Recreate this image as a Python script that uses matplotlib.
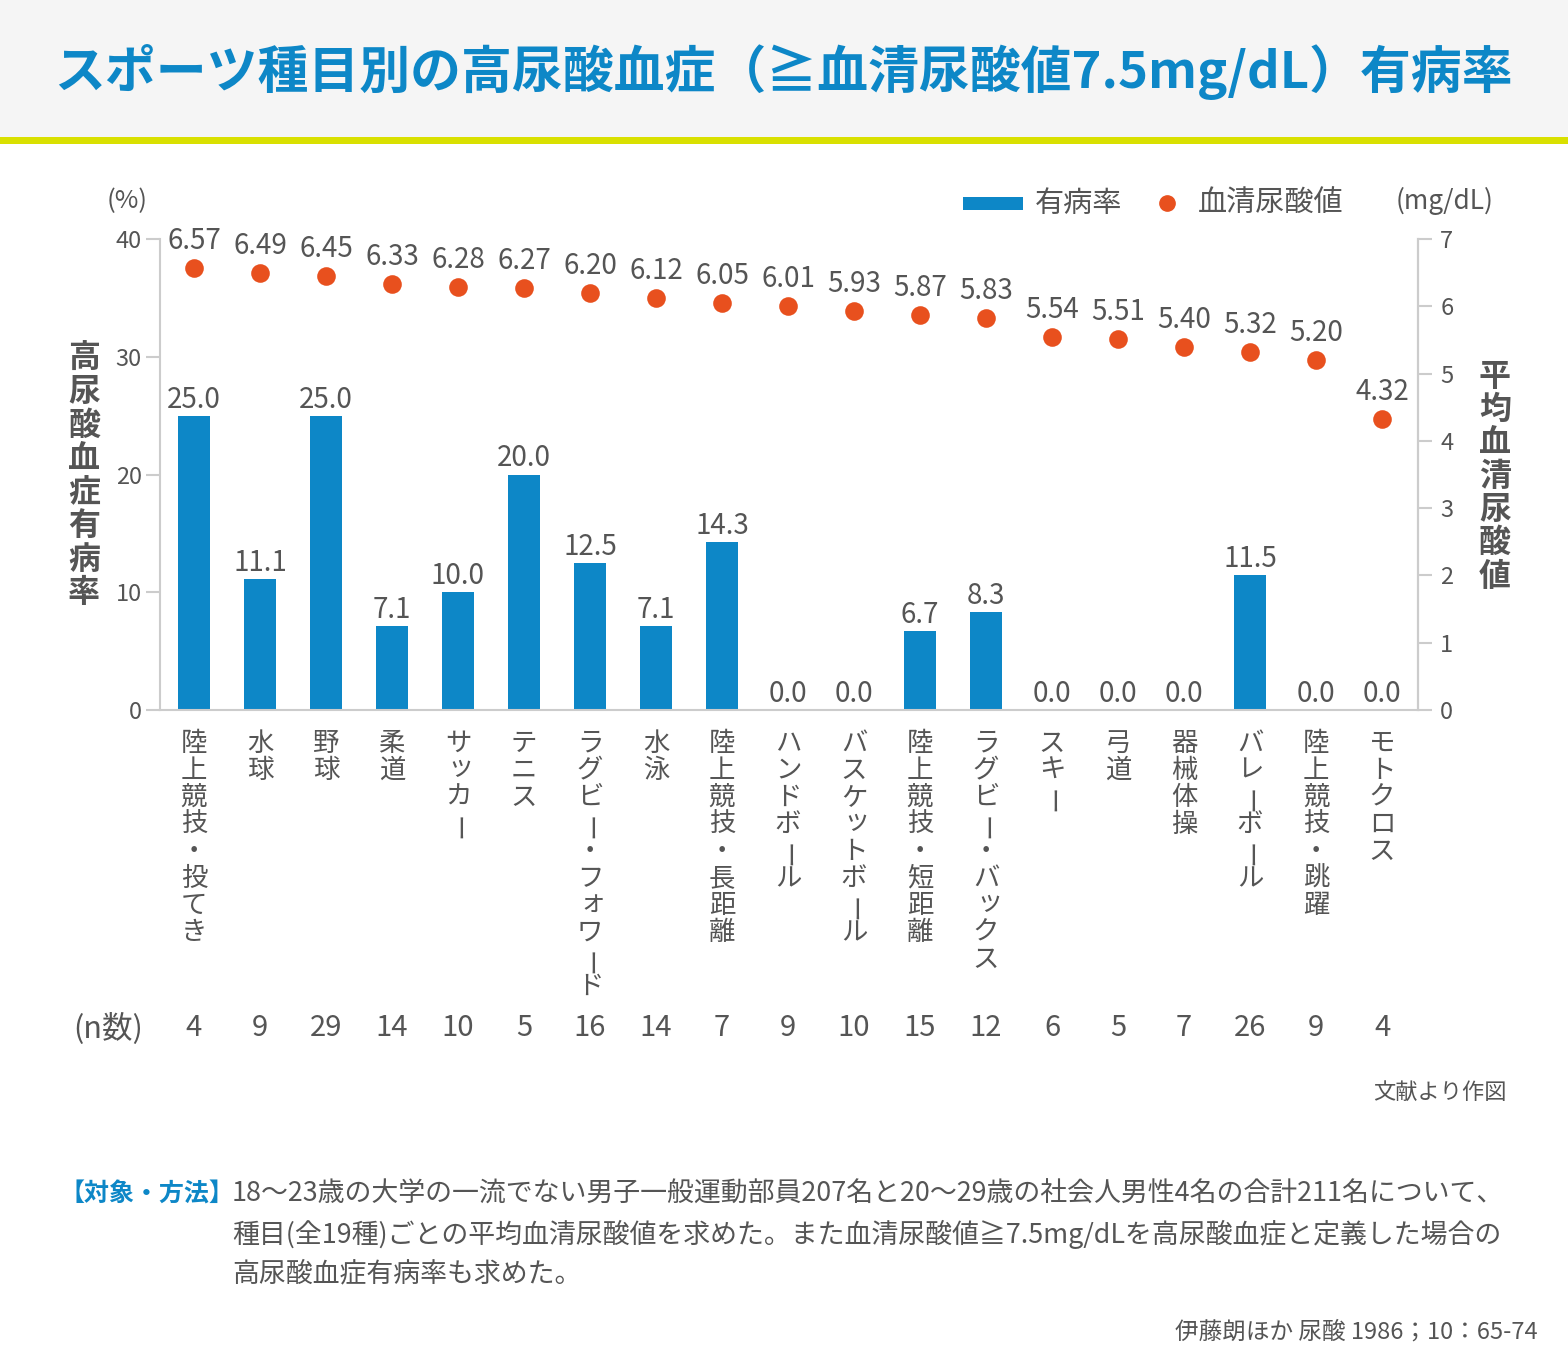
import numpy as np
import matplotlib
matplotlib.use("Agg")
import matplotlib.pyplot as plt
from matplotlib.patches import Rectangle
from matplotlib.lines import Line2D
import matplotlib.transforms as mtransforms

plt.rcParams['font.family'] = ['Noto Sans CJK JP', 'DejaVu Sans']

# データ
sports = ["陸上競技・投てき", "水球", "野球", "柔道", "サッカー", "テニス",
          "ラグビー・フォワード", "水泳", "陸上競技・長距離", "ハンドボール",
          "バスケットボール", "陸上競技・短距離", "ラグビー・バックス", "スキー",
          "弓道", "器械体操", "バレーボール", "陸上競技・跳躍", "モトクロス"]
rate = [25.0, 11.1, 25.0, 7.1, 10.0, 20.0, 12.5, 7.1, 14.3, 0.0,
        0.0, 6.7, 8.3, 0.0, 0.0, 0.0, 11.5, 0.0, 0.0]
uric = [6.57, 6.49, 6.45, 6.33, 6.28, 6.27, 6.20, 6.12, 6.05, 6.01,
        5.93, 5.87, 5.83, 5.54, 5.51, 5.40, 5.32, 5.20, 4.32]
n_count = [4, 9, 29, 14, 10, 5, 16, 14, 7, 9, 10, 15, 12, 6, 5, 7, 26, 9, 4]
rate_ticks = [0, 10, 20, 30, 40]
uric_ticks = [0, 1, 2, 3, 4, 5, 6, 7]

BLUE = '#0d87c7'
ORANGE = '#e8501e'
GRAY = '#555555'
SPINE = '#cccccc'

W, H = 1568, 1368
fig = plt.figure(figsize=(W / 100, H / 100), dpi=100)


def fx(x):
    return x / W


def fy(y):
    return 1 - y / H


# ヘッダー
fig.patches.append(Rectangle((0, fy(137)), 1, 137 / H, transform=fig.transFigure,
                             facecolor='#f5f5f5', edgecolor='none', zorder=0))
fig.patches.append(Rectangle((0, fy(144)), 1, 7 / H, transform=fig.transFigure,
                             facecolor='#d9e000', edgecolor='none', zorder=0))
fig.text(fx(783), fy(72), "スポーツ種目別の高尿酸血症（≧血清尿酸値7.5mg/dL）有病率",
         ha='center', va='center', fontsize=36.6, fontweight='bold', color=BLUE)

# グラフ本体
ax = fig.add_axes([fx(160), fy(710), fx(1418) - fx(160), (710 - 239) / H])
x = np.arange(len(sports))
ax.bar(x, rate, width=0.48, color=BLUE, zorder=2)
ax.set_xlim(-0.515, 18.545)
ax.set_ylim(0, 40)
ax.set_yticks(rate_ticks)
ax.set_xticks([])
ax.spines['top'].set_visible(False)
for s in ['left', 'right', 'bottom']:
    ax.spines[s].set_color(SPINE)
    ax.spines[s].set_linewidth(1.5)
ax.tick_params(axis='y', length=10, width=1.5, color=SPINE, labelsize=17,
               labelcolor=GRAY, pad=3)

for i, v in enumerate(rate):
    ax.annotate(f"{v:.1f}", (i, v), xytext=(0, 8), textcoords='offset pixels',
                ha='center', va='baseline', fontsize=20, color=GRAY)

ax2 = ax.twinx()
ax2.scatter(x, uric, s=180, color=ORANGE, zorder=3, linewidths=0)
ax2.set_ylim(0, 7)
ax2.set_yticks(uric_ticks)
for s in ['top', 'left', 'bottom']:
    ax2.spines[s].set_visible(False)
ax2.spines['right'].set_color(SPINE)
ax2.spines['right'].set_linewidth(1.5)
ax2.tick_params(axis='y', length=10, width=1.5, color=SPINE, labelsize=17,
                labelcolor=GRAY, pad=6)
for i, u in enumerate(uric):
    ax2.annotate(f"{u:.2f}", (i, u), xytext=(0, 19), textcoords='offset pixels',
                 ha='center', va='baseline', fontsize=20, color=GRAY)

# 縦書きラベル
trans = mtransforms.blended_transform_factory(ax.transData, fig.transFigure)
small = "ッォャュョァィゥェ"
for i, name in enumerate(sports):
    for j, ch in enumerate(name):
        cy = 730 + 13.5 + 27 * j
        rot = 0
        dx, dy = 0, 0
        if ch == "ー":
            rot = 90
            dx = 5
        elif ch in small:
            dx, dy = 3, -3
        off = mtransforms.ScaledTranslation(dx / 100, 0, fig.dpi_scale_trans)
        fig.text(i, fy(cy + dy), ch, transform=trans + off, ha='center', va='center',
                 fontsize=19, color=GRAY, rotation=rot)

# n数
fig.text(fx(108), fy(1028), "(n数)", ha='center', va='center', fontsize=22, color=GRAY)
for i, n in enumerate(n_count):
    fig.text(i, fy(1028), str(n), transform=trans, ha='center', va='center',
             fontsize=21, color=GRAY)

# 軸ラベル
for j, ch in enumerate("高尿酸血症有病率"):
    fig.text(fx(84), fy(342 + 16.75 + 33.5 * j), ch, ha='center', va='center',
             fontsize=23, fontweight='bold', color=GRAY)
for j, ch in enumerate("平均血清尿酸値"):
    fig.text(fx(1495), fy(360 + 16.75 + 33.3 * j), ch, ha='center', va='center',
             fontsize=23, fontweight='bold', color=GRAY)
fig.text(fx(127), fy(201), "(%)", ha='center', va='center', fontsize=18.5, color=GRAY)
fig.text(fx(1445), fy(201), "(mg/dL)", ha='center', va='center', fontsize=19, color=GRAY)

# 凡例
fig.patches.append(Rectangle((fx(963), fy(210)), (1023 - 963) / W, 13 / H,
                             transform=fig.transFigure, facecolor=BLUE, edgecolor='none'))
fig.text(fx(1035), fy(204), "有病率", ha='left', va='center', fontsize=21, color=GRAY)
fig.lines.append(Line2D([fx(1167)], [fy(203)], marker='o', markersize=11, color=ORANGE,
                        linestyle='none', transform=fig.transFigure))
fig.text(fx(1198), fy(204), "血清尿酸値", ha='left', va='center', fontsize=21, color=GRAY)

# 注記
fig.text(fx(1507), fy(1092), "文献より作図", ha='right', va='center', fontsize=16, color=GRAY)
fig.text(fx(60), fy(1194), "【対象・方法】", ha='left', va='center', fontsize=18,
         fontweight='bold', color=BLUE)
notes = ["18〜23歳の大学の一流でない男子一般運動部員207名と20〜29歳の社会人男性4名の合計211名について、",
         "種目(全19種)ごとの平均血清尿酸値を求めた。また血清尿酸値≧7.5mg/dLを高尿酸血症と定義した場合の",
         "高尿酸血症有病率も求めた。"]
for k, line in enumerate(notes):
    fig.text(fx(232), fy(1194 + 40 * k), line, ha='left', va='center', fontsize=19.4,
             color=GRAY)
fig.text(fx(1538), fy(1332), "伊藤朗ほか 尿酸 1986；10：65-74", ha='right', va='center',
         fontsize=17, color=GRAY)

fig.savefig("out.png", dpi=100)
